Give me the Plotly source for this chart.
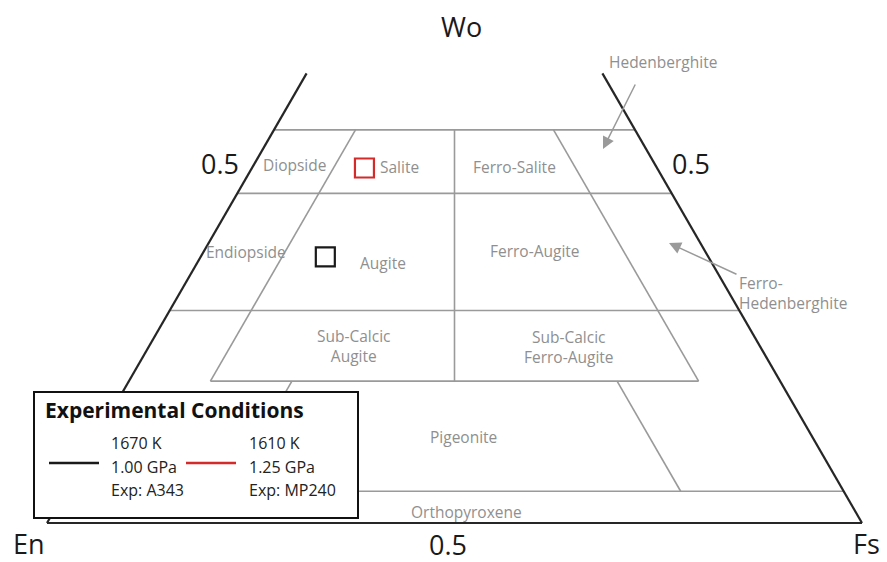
"""
Pyroxene quadrilateral (Wo-En-Fs) with experimental run compositions
"""

import plotly.graph_objects as go

# --- data (ternary fractions: Wo, Fs; En = 1 - Wo - Fs) ---
# horizontal Wo boundaries and their Fs extent (start, end)
wo_levels = [0.557, 0.467, 0.301, 0.201, 0.045]
wo_fs_start = [0.0, 0.0, 0.0, 0.10, 0.0]
wo_fs_end = [0.443, 0.533, 0.699, 0.699, 0.955]

# constant-Fs boundaries (Fs value, Wo top, Wo bottom)
fs_lines = [0.10, 0.20]
fs_lines_wo_top = [0.557, 0.201]
fs_lines_wo_bot = [0.201, 0.045]

# constant-En boundaries
en_lines = [0.10, 0.20]
en_lines_wo_top = [0.557, 0.201]
en_lines_wo_bot = [0.201, 0.045]

# En = Fs divider
mid_wo_top = 0.557
mid_wo_bot = 0.201

# triangle edges are cut at this Wo
edge_wo_top = 0.637

# experimental compositions
exp_names = ['A343', 'MP240']
exp_wo = [0.377, 0.503]
exp_fs = [0.153, 0.138]
exp_colors = ['#1a1a1a', '#d42a2a']

field_names = ['Diopside', 'Salite', 'Ferro-Salite', 'Endiopside', 'Augite',
               'Ferro-Augite', 'Sub-Calcic<br>Augite', 'Sub-Calcic<br>Ferro-Augite',
               'Pigeonite', 'Orthopyroxene']

tick_labels = ['0.5', '0.5', '0.5']
apex_labels = ['Wo', 'En', 'Fs']

# --- geometry: En corner and side length in pixels ---
X0, Y0, SIDE = 47, 523, 815
HGT = SIDE * 0.866
PAD = 8  # page body margin


def to_xy(wo, fs):
    return X0 + (fs + wo / 2) * SIDE, Y0 - wo * HGT


GRAY = '#9a9a9a'
TXT_GRAY = '#8f8f8f'
FONT = 'Open Sans'
LBL = 15.5

fig = go.Figure()


def add_seg(p, q, color, width):
    (x1, y1), (x2, y2) = to_xy(*p), to_xy(*q)
    fig.add_trace(go.Scatter(x=[x1, x2], y=[y1, y2], mode='lines',
                             line=dict(color=color, width=width),
                             hoverinfo='skip', showlegend=False))


# field boundaries
for wo, f1, f2 in zip(wo_levels, wo_fs_start, wo_fs_end):
    add_seg((wo, f1), (wo, f2), GRAY, 1.6)
for fs, wt, wb in zip(fs_lines, fs_lines_wo_top, fs_lines_wo_bot):
    add_seg((wt, fs), (wb, fs), GRAY, 1.6)
for en, wt, wb in zip(en_lines, en_lines_wo_top, en_lines_wo_bot):
    add_seg((wt, 1 - en - wt), (wb, 1 - en - wb), GRAY, 1.6)
add_seg((mid_wo_top, (1 - mid_wo_top) / 2), (mid_wo_bot, (1 - mid_wo_bot) / 2), GRAY, 1.6)

# triangle edges
add_seg((0, 0), (0, 1), '#262626', 2.2)
add_seg((0, 0), (edge_wo_top, 0), '#262626', 2.2)
add_seg((0, 1), (edge_wo_top, 1 - edge_wo_top), '#262626', 2.2)

# experimental points
for name, wo, fs, c in zip(exp_names, exp_wo, exp_fs, exp_colors):
    x, y = to_xy(wo, fs)
    fig.add_trace(go.Scatter(x=[x], y=[y], mode='markers', name=name,
                             marker=dict(symbol='square-open', size=19, color=c,
                                         line=dict(color=c, width=2.2)),
                             showlegend=False))

# field labels
field_pos = [(294, 165), (399, 167), (514, 167), (246, 252), (383, 263),
             (535, 251), (354, 346), (569, 347), (463, 437), (466, 512)]
for name, (x, y) in zip(field_names, field_pos):
    fig.add_annotation(x=x, y=y, text=name, showarrow=False,
                       font=dict(family=FONT, size=LBL, color=TXT_GRAY))

# end-member labels with arrows
fig.add_annotation(x=663, y=62, text='Hedenberghite', showarrow=False,
                   font=dict(family=FONT, size=LBL, color=TXT_GRAY))
fig.add_annotation(x=603, y=149, ax=636, ay=83, axref='x', ayref='y',
                   text='', showarrow=True, arrowhead=2, arrowsize=1.6,
                   arrowwidth=1.5, arrowcolor=GRAY)
fig.add_annotation(x=737, y=293, text='Ferro-<br>Hedenberghite', showarrow=False,
                   xanchor='left', align='left',
                   font=dict(family=FONT, size=LBL, color=TXT_GRAY))
fig.add_annotation(x=669, y=243, ax=738, ay=275, axref='x', ayref='y',
                   text='', showarrow=True, arrowhead=2, arrowsize=1.6,
                   arrowwidth=1.5, arrowcolor=GRAY)

# axis labels
for txt, (x, y) in zip(tick_labels, [(220, 163), (691, 163), (448, 544)]):
    fig.add_annotation(x=x, y=y, text=txt, showarrow=False,
                       font=dict(family=FONT, size=27, color='#1a1a1a'))
for txt, (x, y) in zip(apex_labels, [(461, 26), (29, 543), (866, 543)]):
    fig.add_annotation(x=x, y=y, text=txt, showarrow=False,
                       font=dict(family=FONT, size=27, color='#1a1a1a'))

# legend box
fig.add_shape(type='rect', x0=34, y0=392, x1=358, y1=518,
              line=dict(color='#111111', width=2), fillcolor='white', layer='above')
fig.add_annotation(x=43, y=410, text='<b>Experimental Conditions</b>', showarrow=False,
                   xanchor='left', font=dict(family=FONT, size=21, color='#111111'))
fig.add_shape(type='line', x0=49, x1=99, y0=463, y1=463,
              line=dict(color=exp_colors[0], width=2.5), layer='above')
fig.add_shape(type='line', x0=186, x1=236, y0=463, y1=463,
              line=dict(color=exp_colors[1], width=2.5), layer='above')
for x, lines in [(109, ['1670 K', '1.00 GPa', 'Exp: A343']),
                 (247, ['1610 K', '1.25 GPa', 'Exp: MP240'])]:
    for i, t in enumerate(lines):
        fig.add_annotation(x=x, y=443 + i * 23.5, text=t, showarrow=False,
                           xanchor='left', font=dict(family=FONT, size=16, color='#222222'))

fig.update_layout(
    width=887 - PAD, height=562 - PAD,
    margin=dict(l=0, r=0, t=0, b=0),
    plot_bgcolor='white', paper_bgcolor='white',
    xaxis=dict(range=[PAD, 887], visible=False, fixedrange=True),
    yaxis=dict(range=[562, PAD], visible=False, fixedrange=True),
    showlegend=False,
)

fig.write_html("out.html")
